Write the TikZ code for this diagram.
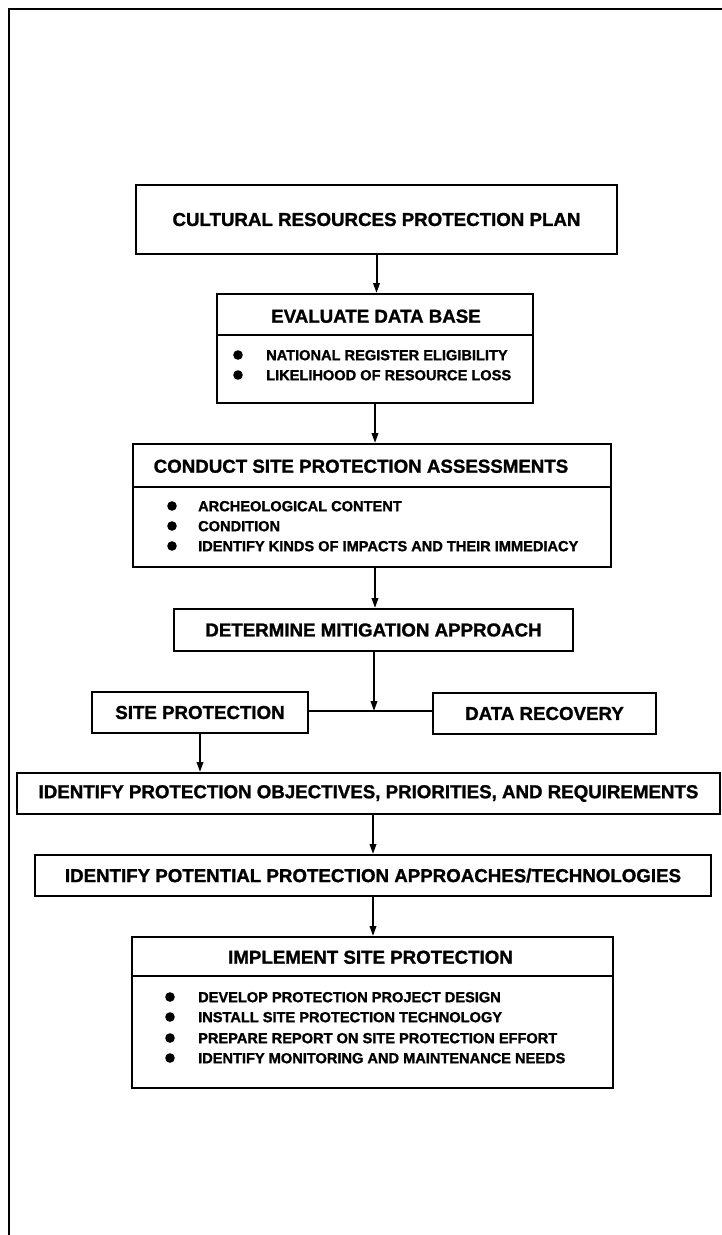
\documentclass[tikz,border=0pt]{standalone}
\usepackage{fontspec}
\setmainfont{Liberation Sans}[BoldFeatures={FakeBold=1.3}]
\usetikzlibrary{arrows.meta}
\tikzset{
  box/.style={draw, line width=2pt, inner sep=0pt, fill=white},
  hdr/.style={font=\bfseries\fontsize{18.7}{20}\selectfont, inner sep=0pt},
  hdrb/.style={hdr, anchor=base},
  itm/.style={font=\bfseries\fontsize{14.6}{16}\selectfont, inner sep=0pt, anchor=base west},
  arr/.style={line width=2pt, -{Triangle[length=10pt,width=6.5pt]}},
  conn/.style={line width=2pt},
  frame/.style={line width=2.2pt},
  dot/.style={fill=black}
}
\begin{document}
\begin{tikzpicture}[x=1pt,y=-1pt]
\useasboundingbox (0,0) rectangle (722,1235);
% frame
\draw[frame] (9,1235) -- (9,9) -- (722,9);

% box 1
\node[box, minimum width=481pt, minimum height=69pt, hdr] (B1) at (376.5,219.5) {CULTURAL RESOURCES PROTECTION PLAN};

% box 2
\node[box, minimum width=316pt, minimum height=109pt] (B2) at (375,348.5) {};
\node[hdrb] (B2t) at (376,322.7) {EVALUATE DATA BASE};
\draw[conn] (B2.west |- 0,335) -- (B2.east |- 0,335);
\fill[dot] (238,355) circle (4.8);
\fill[dot] (238,375) circle (4.8);
\node[itm] (B2a) at (266,360.2) {NATIONAL REGISTER ELIGIBILITY};
\node[itm] (B2b) at (266,380.2) {LIKELIHOOD OF RESOURCE LOSS};

% box 3
\node[box, minimum width=478pt, minimum height=123pt] (B3) at (372,505.5) {};
\node[hdrb] (B3t) at (361,472.7) {CONDUCT SITE PROTECTION ASSESSMENTS};
\draw[conn] (B3.west |- 0,487) -- (B3.east |- 0,487);
\fill[dot] (172,506) circle (4.8);
\fill[dot] (172,526) circle (4.8);
\fill[dot] (172,546) circle (4.8);
\node[itm] (B3a) at (198,511.2) {ARCHEOLOGICAL CONTENT};
\node[itm] (B3b) at (198,531.2) {CONDITION};
\node[itm] (B3c) at (198,551.2) {IDENTIFY KINDS OF IMPACTS AND THEIR IMMEDIACY};

% box 4
\node[box, minimum width=399pt, minimum height=42pt, hdr] (B4) at (373.5,630) {DETERMINE MITIGATION APPROACH};

% site protection / data recovery
\node[box, minimum width=216pt, minimum height=41pt, hdr] (SP) at (200,712.5) {SITE PROTECTION};
\node[box, minimum width=223pt, minimum height=41pt, hdr] (DR) at (544.5,713.5) {DATA RECOVERY};
\coordinate (J) at (374,711);

% box 6, 7
\node[box, minimum width=703pt, minimum height=41pt, hdr] (B6) at (368.5,793.5) {IDENTIFY PROTECTION OBJECTIVES, PRIORITIES, AND REQUIREMENTS};
\node[box, minimum width=676pt, minimum height=41pt, hdr] (B7) at (373,875.5) {IDENTIFY POTENTIAL PROTECTION APPROACHES/TECHNOLOGIES};

% box 8
\node[box, minimum width=481pt, minimum height=151pt] (B8) at (372.5,1012.5) {};
\node[hdrb] (B8t) at (370.5,963.7) {IMPLEMENT SITE PROTECTION};
\draw[conn] (B8.west |- 0,976) -- (B8.east |- 0,976);
\fill[dot] (170,997) circle (4.8);
\fill[dot] (170,1017) circle (4.8);
\fill[dot] (170,1038) circle (4.8);
\fill[dot] (170,1058) circle (4.8);
\node[itm] (B8a) at (198,1002.2) {DEVELOP PROTECTION PROJECT DESIGN};
\node[itm] (B8b) at (198,1022.2) {INSTALL SITE PROTECTION TECHNOLOGY};
\node[itm] (B8c) at (198,1043.2) {PREPARE REPORT ON SITE PROTECTION EFFORT};
\node[itm] (B8d) at (198,1063.2) {IDENTIFY MONITORING AND MAINTENANCE NEEDS};

% connectors
\draw[arr] (B1.south) -- (B1.south |- B2.north);
\draw[arr] (B2.south) -- (B2.south |- B3.north);
\draw[arr] (B2.south |- B3.south) -- (B2.south |- B4.north);
\draw[arr] (J |- B4.south) -- (J);
\draw[conn] (SP.east |- J) -- (DR.west |- J);
\draw[arr] (SP.south) -- (SP.south |- B6.north);
\draw[arr] (B7.north |- B6.south) -- (B7.north);
\draw[arr] (B7.south) -- (B7.south |- B8.north);
\end{tikzpicture}
\end{document}
